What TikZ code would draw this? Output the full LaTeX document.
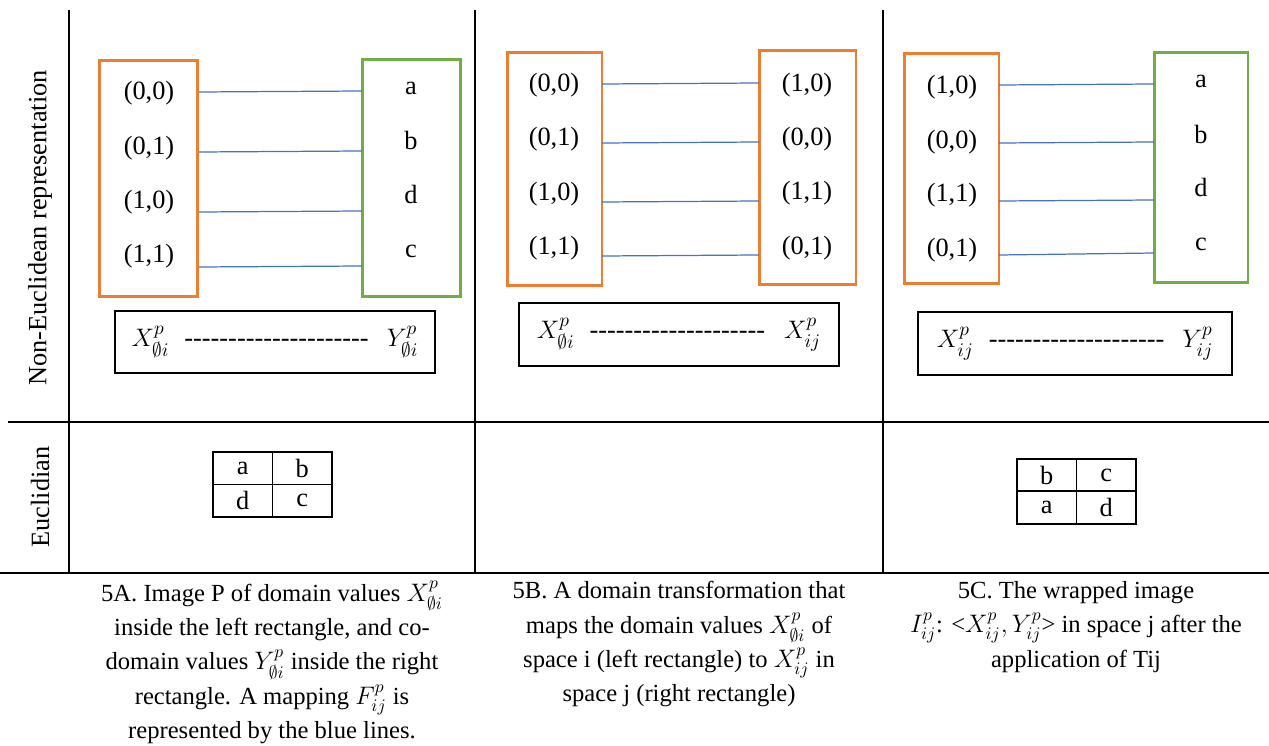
\documentclass[tikz,border=0pt]{standalone}
\usepackage{fontspec}
\setmainfont{Liberation Serif}
\usepackage{amsmath}
\usepackage{tikz}
\usetikzlibrary{positioning}
\definecolor{domainorange}{RGB}{237, 125, 49}
\definecolor{codomaingreen}{RGB}{112, 173, 71}
\definecolor{mapblue}{RGB}{68, 114, 196}
\newcommand{\bodysize}{\fontsize{15}{19.5}\selectfont}
\newcommand{\capsize}{\fontsize{14}{19.56}\selectfont}
\newcommand{\dashrow}[1]{\hbox to #1{\leaders\hbox{-}\hfill}}

\begin{document}
\begin{tikzpicture}[
			x=0.02cm, y=-0.02cm,
			font=\bodysize,
			rule/.style={line width=1.15pt},
			dombox/.style={rectangle, draw=domainorange, line width=1.7pt, minimum width=1.9cm, minimum height=4.66cm},
			codbox/.style={rectangle, draw=codomaingreen, line width=1.7pt, minimum width=1.9cm, minimum height=4.66cm},
			val/.style={anchor=base, inner sep=0pt},
			map/.style={draw=mapblue, line width=0.7pt},
			pairbox/.style={rectangle, draw, line width=1.3pt, minimum width=6.4cm, minimum height=1.25cm},
			cell/.style={rectangle, draw, line width=1.1pt, minimum width=1.19cm, minimum height=0.65cm, inner sep=0pt, outer sep=0pt},
			caption/.style={anchor=north, align=center, inner sep=0pt, font=\capsize}
		]
		\useasboundingbox (0,0) rectangle (1269,746);
		
		% Table frame
		\draw[rule] (69,10) -- (69,573);
		\draw[rule] (475,10) -- (475,573);
		\draw[rule] (883,10) -- (883,573);
		\draw[rule] (8,422) -- (1269,422);
		\draw[rule] (0,573) -- (1269,573);
		
		\node[rotate=90] (rowNE) at (40,228) {Non-Euclidean representation};
		\node[rotate=90] (rowE) at (40,497) {Euclidian};
		
		% 5A
		\node[dombox, minimum width=1.98cm, minimum height=4.74cm] (A-dom) at (148.5,178.5) {};
		\node[codbox, minimum width=1.98cm, minimum height=4.76cm] (A-cod) at (411.5,178) {};
		\node[val] (A-x1) at (149,100) {(0,0)};
		\node[val] (A-x2) at (149,154.5) {(0,1)};
		\node[val] (A-x3) at (149,209) {(1,0)};
		\node[val] (A-x4) at (149,263) {(1,1)};
		\node[val] (A-y1) at (411,94.5) {a};
		\node[val] (A-y2) at (411,150) {b};
		\node[val] (A-y3) at (411,204) {d};
		\node[val] (A-y4) at (411,258) {c};
		\coordinate (A-s1) at (199,92); \coordinate (A-t1) at (362,91);
		\coordinate (A-s2) at (199,152); \coordinate (A-t2) at (362,151);
		\coordinate (A-s3) at (199,212); \coordinate (A-t3) at (362,211);
		\coordinate (A-s4) at (199,267); \coordinate (A-t4) at (362,266);
		\draw[map] (A-s1) -- (A-t1);
		\draw[map] (A-s2) -- (A-t2);
		\draw[map] (A-s3) -- (A-t3);
		\draw[map] (A-s4) -- (A-t4);
		\node[pairbox, minimum height=1.24cm] (A-pair) at (275,342) {$X^p_{\emptyset i}$\hspace{0.3cm}\dashrow{3.8cm}\hspace{0.25cm}$Y^p_{\emptyset i}$};
		
		% 5B
		\node[dombox] (B-dom) at (554.5,169) {};
		\node[dombox, minimum width=1.94cm, minimum height=4.7cm] (B-cod) at (807.5,167.5) {};
		\node[val] (B-x1) at (554,92) {(0,0)};
		\node[val] (B-x2) at (554,146) {(0,1)};
		\node[val] (B-x3) at (554,201) {(1,0)};
		\node[val] (B-x4) at (554,255) {(1,1)};
		\node[val] (B-y1) at (807,92) {(1,0)};
		\node[val] (B-y2) at (807,146) {(0,0)};
		\node[val] (B-y3) at (807,200) {(1,1)};
		\node[val] (B-y4) at (807,255) {(0,1)};
		\coordinate (B-s1) at (602,84); \coordinate (B-t1) at (759,83);
		\coordinate (B-s2) at (602,143); \coordinate (B-t2) at (759,142);
		\coordinate (B-s3) at (602,202); \coordinate (B-t3) at (759,201);
		\coordinate (B-s4) at (602,256); \coordinate (B-t4) at (759,255);
		\draw[map] (B-s1) -- (B-t1);
		\draw[map] (B-s2) -- (B-t2);
		\draw[map] (B-s3) -- (B-t3);
		\draw[map] (B-s4) -- (B-t4);
		\node[pairbox] (B-pair) at (679,334.5) {$X^p_{\emptyset i}$\hspace{0.3cm}\dashrow{3.64cm}\hspace{0.25cm}$X^p_{ij}$};
		
		% 5C
		\node[dombox, minimum height=4.62cm] (C-dom) at (951.5,168.5) {};
		\node[codbox, minimum width=1.88cm, minimum height=4.62cm] (C-cod) at (1201,167.5) {};
		\node[val] (C-x1) at (952,94) {(1,0)};
		\node[val] (C-x2) at (952,149) {(0,0)};
		\node[val] (C-x3) at (952,202) {(1,1)};
		\node[val] (C-x4) at (952,257) {(0,1)};
		\node[val] (C-y1) at (1201,87.5) {a};
		\node[val] (C-y2) at (1201,144) {b};
		\node[val] (C-y3) at (1201,197) {d};
		\node[val] (C-y4) at (1201,250.5) {c};
		\coordinate (C-s1) at (999,85); \coordinate (C-t1) at (1154,84);
		\coordinate (C-s2) at (999,143); \coordinate (C-t2) at (1154,142);
		\coordinate (C-s3) at (999,201); \coordinate (C-t3) at (1154,200);
		\coordinate (C-s4) at (999,255); \coordinate (C-t4) at (1154,253);
		\draw[map] (C-s1) -- (C-t1);
		\draw[map] (C-s2) -- (C-t2);
		\draw[map] (C-s3) -- (C-t3);
		\draw[map] (C-s4) -- (C-t4);
		\node[pairbox, minimum width=6.28cm] (C-pair) at (1075,343.5) {$X^p_{ij}$\hspace{0.3cm}\dashrow{3.62cm}\hspace{0.25cm}$Y^p_{ij}$};
		
		% Euclidian grids
		\node[cell] (Ea-11) at (242.75,468.25) {a};
		\node[cell, right=0pt of Ea-11] (Ea-12) {b};
		\node[cell, below=0pt of Ea-11] (Ea-21) {d};
		\node[cell, right=0pt of Ea-21] (Ea-22) {c};
		\node[cell] (Ec-11) at (1046.75,475) {b};
		\node[cell, right=0pt of Ec-11] (Ec-12) {c};
		\node[cell, below=0pt of Ec-11] (Ec-21) {a};
		\node[cell, right=0pt of Ec-21] (Ec-22) {d};
		
		% Captions below
		\node[caption] (capA) at (272,581) {5A. Image P of domain values $X^p_{\emptyset i}$\\inside the left rectangle, and co-\\domain values $Y^p_{\emptyset i}$ inside the right\\rectangle. A mapping $F^p_{ij}$ is\\represented by the blue lines.};
		\node[caption] (capB) at (679,581) {5B. A domain transformation that\\maps the domain values $X^p_{\emptyset i}$ of\\space i (left rectangle) to $X^p_{ij}$ in\\space j (right rectangle)};
		\node[caption] (capC) at (1076,581) {5C. The wrapped image\\$I^p_{ij}$: <$X^p_{ij}, Y^p_{ij}$> in space j after the\\application of Tij};
		\end{tikzpicture}
\end{document}
